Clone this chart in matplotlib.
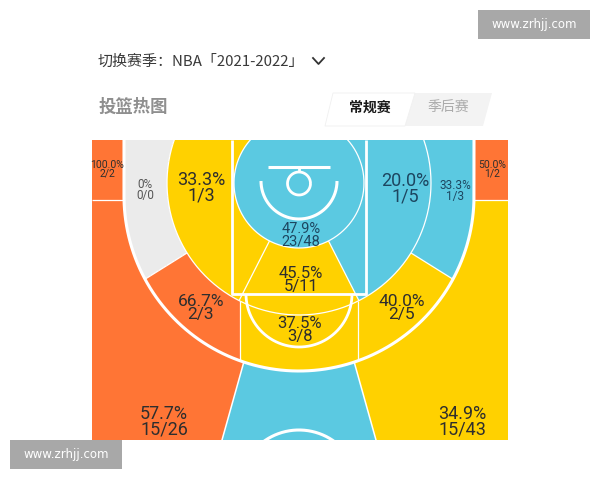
import matplotlib
matplotlib.use("Agg")
import matplotlib.pyplot as plt
import numpy as np
from matplotlib.colors import ListedColormap
from matplotlib.patches import Rectangle, Polygon

plt.rcParams["font.family"] = ["Noto Sans CJK SC", "DejaVu Sans"]

season_label = "切换赛季：NBA「2021-2022」"
section_title = "投篮热图"
tabs = ["常规赛", "季后赛"]
watermark = "www.zrhjj.com"

# shot zones (order matters for the label map below)
zones = ["restricted", "paint", "mid_left", "mid_right", "mid_top",
         "long_left_wing", "long_left_base", "long_right_wing", "long_right_base",
         "corner3_left", "wing3_left", "top3", "wing3_right", "corner3_right"]
made = [23, 5, 1, 1, 3, 2, 0, 2, 1, 2, 15, None, 15, 1]
attempts = [48, 11, 3, 5, 8, 3, 0, 5, 3, 2, 26, None, 43, 2]
heat = ["cold", "avg", "avg", "cold", "avg", "hot", "none", "avg", "cold",
        "hot", "hot", "cold", "avg", "hot"]

heat_levels = ["none", "cold", "avg", "hot"]
heat_colors = ["#ebebeb", "#5bc9e1", "#ffd100", "#ff7535"]

# label placement (pixel coords) and font size for each zone
label_pos = [(301, 235, 10.5), (301, 280, 12), (201, 188, 13), (405, 189, 13),
             (300, 330, 12), (201, 308, 12.5), (145, 190, 8.5), (402, 308, 12.5),
             (455, 191, 8.5), (107, 169, 7.5), (164, 422, 13), None,
             (462, 422, 13), (492, 169, 7.5)]

# court geometry in pixels
HX, HY = 299, 183          # hoop
R1, R2 = 65, 132           # inner circle / mid-range arc
AX, AY, R3 = 299, 196, 175  # three point arc
L, R, T, B = 92, 508, 140, 440

fig = plt.figure(figsize=(6, 4.8), dpi=100)
ax = fig.add_axes([0, 0, 1, 1])
ax.set_xlim(0, 600)
ax.set_ylim(480, 0)
ax.axis("off")

# --- zone label map
xs = np.arange(L, R, 0.5) + 0.25
ys = np.arange(T, B, 0.5) + 0.25
X, Y = np.meshgrid(xs, ys)
dx = X - HX
dy = Y - HY
d = np.hypot(dx, dy)
inside = np.where(Y < AY, np.abs(X - AX) < R3, np.hypot(X - AX, Y - AY) < R3)
is_left = dx < 0
phi = np.degrees(np.arctan2(np.abs(dx), dy))
beta = np.degrees(np.arctan2(dy, np.abs(dx)))

zi = zones.index
zone = np.full(X.shape, -1)
inner = inside & (d >= R1) & (d < R2)
outer = inside & (d >= R2)
zone[inside & (d < R1)] = zi("restricted")
zone[inner & (phi < 27)] = zi("paint")
zone[inner & (phi >= 27) & is_left] = zi("mid_left")
zone[inner & (phi >= 27) & ~is_left] = zi("mid_right")
top_mid = outer & (dy > 0) & (np.abs(dx) < 59)
zone[top_mid] = zi("mid_top")
zone[outer & ~top_mid & (beta < 32) & is_left] = zi("long_left_base")
zone[outer & ~top_mid & (beta >= 32) & is_left] = zi("long_left_wing")
zone[outer & ~top_mid & (beta < 32) & ~is_left] = zi("long_right_base")
zone[outer & ~top_mid & (beta >= 32) & ~is_left] = zi("long_right_wing")
out3 = ~inside
corner = out3 & (Y < 200)
top3 = out3 & ~corner & (np.abs(dx) < 56 + 0.28 * (Y - 365))
zone[corner & is_left] = zi("corner3_left")
zone[corner & ~is_left] = zi("corner3_right")
zone[top3] = zi("top3")
zone[out3 & ~corner & ~top3 & is_left] = zi("wing3_left")
zone[out3 & ~corner & ~top3 & ~is_left] = zi("wing3_right")

zone_level = np.array([heat_levels.index(h) for h in heat])
ax.imshow(zone_level[zone], cmap=ListedColormap(heat_colors), vmin=-0.5, vmax=3.5,
          extent=(L, R, B, T), interpolation="nearest", zorder=1)

court = Rectangle((L, T), R - L, B - T, transform=ax.transData)


def line(x, y, lw):
    ln, = ax.plot(x, y, color="white", lw=lw, solid_capstyle="butt", zorder=3)
    ln.set_clip_path(court)


th = np.linspace(0, 2 * np.pi, 400)
lower = np.linspace(0, np.pi, 200)

# zone boundaries (thin)
line(HX + R1 * np.cos(th), HY + R1 * np.sin(th), 0.9)
line(HX + R2 * np.cos(th), HY + R2 * np.sin(th), 0.9)
for s in (-1, 1):
    a = np.radians(27)
    line([HX + s * R1 * np.sin(a), HX + s * R2 * np.sin(a)],
         [HY + R1 * np.cos(a), HY + R2 * np.cos(a)], 0.9)
    line([HX + s * 59, HX + s * 59],
         [HY + np.sqrt(R2 ** 2 - 59 ** 2), AY + np.sqrt(R3 ** 2 - 59 ** 2)], 0.9)
    b = np.radians(32)
    t = np.linspace(R2, 220, 400)
    px, py = HX + s * t * np.cos(b), HY + t * np.sin(b)
    keep = np.hypot(px - AX, py - AY) <= R3
    line(px[keep], py[keep], 0.9)
    yy = np.linspace(340, 450, 200)
    xx = HX + s * (56 + 0.28 * (yy - 365))
    keep = np.hypot(xx - AX, yy - AY) >= R3
    line(xx[keep], yy[keep], 1.1)
line([L, AX - R3], [200, 200], 0.9)
line([AX + R3, R], [200, 200], 0.9)

# court markings (thick)
arc_x = AX + R3 * np.cos(lower)
arc_y = AY + R3 * np.sin(lower)
line(np.r_[AX + R3, arc_x, AX - R3], np.r_[T, arc_y, T], 2.2)
line([232, 232, 366, 366], [T, 294, 294, T], 2.0)
line(HX + 53 * np.cos(lower), 294 + 53 * np.sin(lower), 2.0)
line(HX + 38 * np.cos(lower), 181 + 38 * np.sin(lower), 2.2)
line([268, 330], [167, 167], 2.2)
line([HX, HX], [167, 172], 2.0)
line(HX + 11.5 * np.cos(th), 183.5 + 11.5 * np.sin(th), 2.0)
line(HX + 60 * np.cos(th), 490 + 60 * np.sin(th), 2.2)

# zone labels
for i, pos in enumerate(label_pos):
    if pos is None:
        continue
    x, y, size = pos
    m, a = made[i], attempts[i]
    pct = "0%" if a == 0 else f"{100 * m / a:.1f}%"
    color = {"cold": "#1d4660", "none": "#555555"}.get(heat[i], "#2e2e2e")
    ax.text(x, y, f"{pct}\n{m}/{a}", ha="center", va="center", fontsize=size,
            color=color, family="Roboto", linespacing=0.85, zorder=4)

# header
ax.text(98, 62, season_label, fontsize=10.8, color="#3a3a3a", va="center", ha="left")
ax.plot([313, 318.5, 324], [58, 64, 58], color="#333333", lw=1.3)
ax.text(99, 107, section_title, fontsize=12.5, color="#8f8f8f", weight="bold",
        va="center", ha="left")
ax.add_patch(Polygon([(415, 93), (492, 93), (483, 126), (405, 126)],
                     closed=True, facecolor="#f3f3f3", edgecolor="none"))
ax.add_patch(Polygon([(333, 93), (415, 93), (405, 126), (325, 126)],
                     closed=True, facecolor="white", edgecolor="#f0f0f0", lw=0.6))
ax.text(370, 108, tabs[0], fontsize=10, color="#1a1a1a", weight="bold",
        ha="center", va="center")
ax.text(448, 108, tabs[1], fontsize=10, color="#aaaaaa", ha="center", va="center")

# watermarks
for x0, y0 in [(478, 10), (10, 440)]:
    ax.add_patch(Rectangle((x0, y0), 112, 29, facecolor="#a8a8a8", edgecolor="none",
                           zorder=5))
    ax.text(x0 + 56, y0 + 14.5, watermark, fontsize=8.5, color="white",
            family="DejaVu Sans", ha="center", va="center", zorder=6)

fig.savefig("out.png", dpi=100)
